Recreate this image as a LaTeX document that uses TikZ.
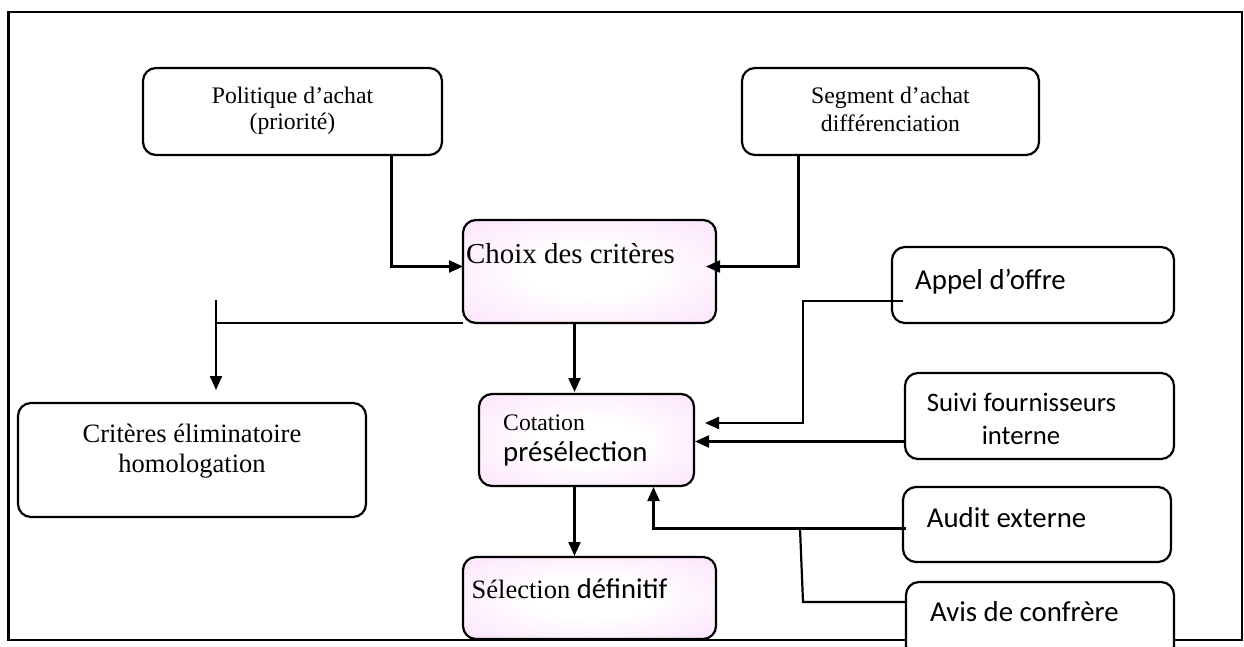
\documentclass[tikz,border=0pt]{standalone}
\usepackage{fontspec}
\setmainfont{Liberation Serif}
\newfontfamily\calibrifont{Carlito}
\usetikzlibrary{arrows.meta,calc}
\definecolor{pinkc}{RGB}{250,218,250}
% soft pink glow: white core fading to pink towards the corners
\pgfdeclareradialshading{softpink}{\pgfpoint{0bp}{0bp}}{%
  color(0bp)=(white); color(12bp)=(white); color(45bp)=(pinkc); color(80bp)=(pinkc)}
\begin{document}
\begin{tikzpicture}[x=1pt,y=-1pt,
  box/.style={draw, line width=2.2pt, rounded corners=13pt, fill=white,
    outer sep=0pt, inner sep=0pt, anchor=north west},
  pinkbox/.style={box, shading=softpink},
  conn/.style={line width=2.2pt},
  arr/.style={conn, -{Triangle[length=14pt,width=12pt]}},
  txt/.style={inner sep=0pt, anchor=base west},
  txtc/.style={inner sep=0pt, anchor=base},
  serifS/.style={font=\fontsize{23.7}{28}\selectfont},
  serifM/.style={font=\fontsize{26.5}{31}\selectfont},
  serifL/.style={font=\fontsize{28.9}{34}\selectfont},
  sansS/.style={font=\calibrifont\fontsize{26.7}{31}\selectfont},
  sansL/.style={font=\calibrifont\fontsize{28.8}{34}\selectfont},
]
\useasboundingbox (0,0) rectangle (1244,647);
\fill[white] (0,0) rectangle (1244,647);

% outer frame
\draw[line width=2.2pt] (8.5,12) rectangle (1242,640);

% boxes
\node[box, minimum width=299pt, minimum height=87pt] (pol) at (143,68) {};
\node[box, minimum width=297pt, minimum height=87pt] (seg) at (742,68) {};
\node[pinkbox, minimum width=253pt, minimum height=103pt] (choix) at (463,220) {};
\node[pinkbox, minimum width=215pt, minimum height=92pt] (cot) at (479,394) {};
\node[pinkbox, minimum width=253pt, minimum height=82pt] (sel) at (463,557) {};
\node[box, minimum width=348pt, minimum height=114pt] (crit) at (18,403) {};
\node[box, minimum width=282pt, minimum height=76pt] (appel) at (892,247) {};
\node[box, minimum width=269pt, minimum height=86pt] (suivi) at (905,373) {};
\node[box, minimum width=268pt, minimum height=75pt] (audit) at (903,487) {};
\node[box, minimum width=268pt, minimum height=82pt] (avis) at (906,582) {};

% texts
\node[txtc, serifS] (polA) at (292.5,103.3) {Politique d’achat};
\node[txtc, serifS] (polB) at (292.5,129.5) {(priorité)};
\node[txtc, serifS] (segA) at (890.5,104) {Segment d’achat};
\node[txtc, serifS] (segB) at (890.5,131.5) {différenciation};
\node[txt, serifL] (choixT) at (466,263) {Choix des critères};
\node[txt, serifS] (cotA) at (503,430) {Cotation};
\node[txt, sansL] (cotB) at (503,461.5) {présélection};
\node[txt, serifM] (selT) at (471.5,598.3) {Sélection {\calibrifont\fontsize{28.6}{34}\selectfont définitif}};
\node[txtc, serifM] (critA) at (192,442.3) {Critères éliminatoire};
\node[txtc, serifM] (critB) at (192,472.7) {homologation};
\node[txt, sansL] (appelT) at (915,289) {Appel d’offre};
\node[txt, sansS] (suiviA) at (926.7,411.7) {Suivi fournisseurs};
\node[txtc, sansS] (suiviB) at (1021,444) {interne};
\node[txt, sansL] (auditT) at (926.7,527.3) {Audit externe};
\node[txt, sansL] (avisT) at (930,621.7) {Avis de confrère};

% connectors
\draw[arr] ($(pol.south)+(99,0)$) |- ($(choix.west)+(0,-5)$);
\draw[arr] ($(seg.south)+(-92,0)$) |- ($(choix.east)+(-10,-5)$);
\draw[arr] ($(choix.south)+(-15,0)$) -- ($(cot.north)+(-12,-2)$);
\draw[arr] ($(cot.south)+(-12,0)$) -- ($(sel.north)+(-15,-1)$);

\coordinate (critjoin) at ($(crit.north)+(24,-80)$);
\coordinate (critin) at ($(crit.north)+(24,-13)$);
\draw[conn] (choix.south west) -- (critjoin);
\draw[arr] ($(critjoin)+(0,-23)$) -- (critin);

\draw[arr] ($(appel.west)+(11,16)$) -| ($(cot.east)+(109,-17)$) -- ($(cot.east)+(11,-17)$);
\draw[arr] ($(suivi.west)+(0,25.5)$) -- ($(cot.east)+(1,1.5)$);

\draw[arr] ($(audit.west)+(3,4)$) -| ($(cot.south)+(67,1)$);
\coordinate (avjoin) at ($(audit.west)+(-103,4)$);
\draw[conn] (avjoin) -- ($(avis.west)+(-103,-21)$) -- ($(avis.west)+(0,-21)$);
\end{tikzpicture}
\end{document}
